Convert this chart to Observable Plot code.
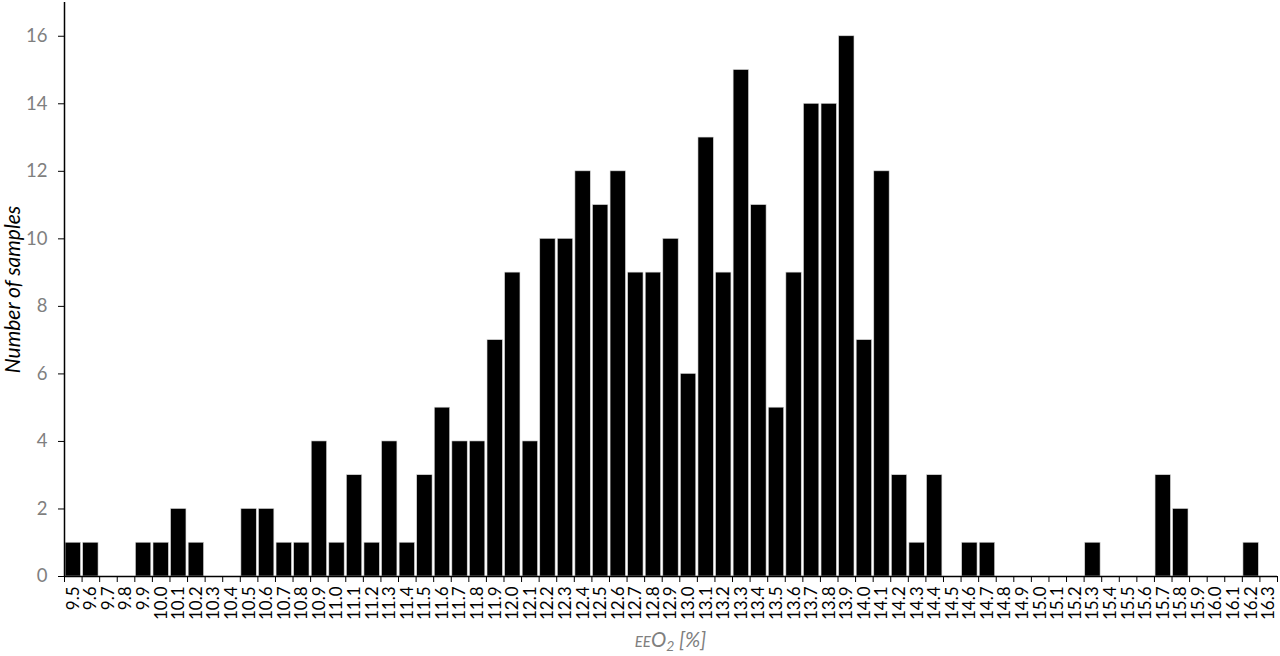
<!DOCTYPE html>
<html>
<head>
<meta charset="utf-8">
<script src="https://cdn.jsdelivr.net/npm/d3@7"></script>
<script src="https://cdn.jsdelivr.net/npm/@observablehq/plot@0.6"></script>
<style>
  html, body { margin: 0; padding: 0; background: #fff; }
</style>
</head>
<body>
<div id="chart"></div>
<script>
const bins = ["9.5","9.6","9.7","9.8","9.9","10.0","10.1","10.2","10.3","10.4","10.5","10.6","10.7","10.8","10.9","11.0","11.1","11.2","11.3","11.4","11.5","11.6","11.7","11.8","11.9","12.0","12.1","12.2","12.3","12.4","12.5","12.6","12.7","12.8","12.9","13.0","13.1","13.2","13.3","13.4","13.5","13.6","13.7","13.8","13.9","14.0","14.1","14.2","14.3","14.4","14.5","14.6","14.7","14.8","14.9","15.0","15.1","15.2","15.3","15.4","15.5","15.6","15.7","15.8","15.9","16.0","16.1","16.2","16.3"];
const counts = [1,1,0,0,1,1,2,1,0,0,2,2,1,1,4,1,3,1,4,1,3,5,4,4,7,9,4,10,10,12,11,12,9,9,10,6,13,9,15,11,5,9,14,14,16,7,12,3,1,3,0,1,1,0,0,0,0,0,1,0,0,0,3,2,0,0,0,1,0];
const yTicks = [0,2,4,6,8,10,12,14,16];
const yLabel = "Number of samples";

const data = bins.map((b, i) => ({bin: +b, label: b, count: counts[i]}));
const half = 0.05;
const xDomain = [+bins[0] - half, +bins[bins.length - 1] + half];
const edges = [...bins.map(b => +b - half), +bins[bins.length - 1] + half];

const plot = Plot.plot({
  width: 1280,
  height: 656,
  marginLeft: 64,
  marginRight: 3,
  marginTop: 2,
  marginBottom: 80,
  style: {fontFamily: "Lato, 'Open Sans', sans-serif", background: "#fff", color: "black"},
  x: {type: "linear", domain: xDomain},
  y: {domain: [0, 17]},
  marks: [
    Plot.rectY(data.filter(d => d.count > 0), {
      x1: d => d.bin - half, x2: d => d.bin + half, y: "count",
      fill: "black", stroke: "#d8d8d8", strokeWidth: 0.6, insetLeft: 1.1, insetRight: 1.1
    }),
    Plot.axisY({ticks: yTicks, tickSize: 6, tickPadding: 11, fontSize: 18.5, fill: "#7f7f7f", stroke: "black", label: null}),
    Plot.axisX({ticks: edges, tickSize: 6, tickFormat: () => "", stroke: "black", label: null}),
    Plot.axisX({ticks: data.map(d => d.bin), tickSize: 0, tickPadding: 10, tickRotate: -90,
      tickFormat: d => d.toFixed(1), fontSize: 17, fill: "black", label: null}),
    Plot.ruleX([xDomain[0]], {stroke: "black", strokeWidth: 1.5}),
    Plot.ruleY([0], {stroke: "black", strokeWidth: 1.5}),
    Plot.text([yLabel], {frameAnchor: "left", textAnchor: "middle", dx: -51, rotate: -90, text: d => d,
      fontSize: 21, fontStyle: "italic", fill: "black"})
  ]
});

document.getElementById("chart").appendChild(plot);

// x-axis label with small caps "EE" and subscript "2"
const xs = plot.scale("x");
const cx = (xs.range[0] + xs.range[1]) / 2;
const svg = d3.select(plot);
const t = svg.append("text")
  .attr("x", cx)
  .attr("y", 647)
  .attr("text-anchor", "middle")
  .attr("fill", "#7f7f7f")
  .attr("font-style", "italic")
  .attr("font-size", 20.5)
  .attr("font-family", "Lato, 'Open Sans', sans-serif");
t.append("tspan").attr("font-size", 15).text("EE");
t.append("tspan").text("O");
t.append("tspan").attr("font-size", 14).attr("dy", 4).text("2");
t.append("tspan").attr("dy", -4).text(" [%]");
</script>
</body>
</html>
